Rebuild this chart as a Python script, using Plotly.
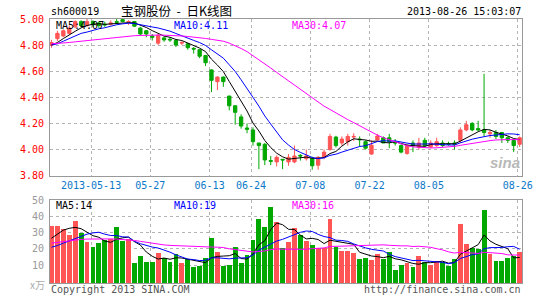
import math
import plotly.graph_objects as go

# ---------------- data ----------------
DATES = (
    ["2013-05-%02d" % d for d in [2, 3, 6, 7, 8, 9, 10, 13, 14, 15, 16, 17, 20, 21, 22, 23, 24, 27, 28, 29, 30, 31]]
    + ["2013-06-%02d" % d for d in [3, 4, 5, 6, 7, 13, 14, 17, 18, 19, 20, 21, 24, 25, 26, 27, 28]]
    + ["2013-07-%02d" % d for d in [1, 2, 3, 4, 5, 8, 9, 10, 11, 12, 15, 16, 17, 18, 19, 22, 23, 24, 25, 26, 29, 30, 31]]
    + ["2013-08-%02d" % d for d in [1, 2, 5, 6, 7, 8, 9, 12, 13, 14, 15, 16, 19, 20, 21, 22, 23, 26]]
)

OPEN = [4.80, 4.85, 4.87, 4.89, 4.94, 4.98, 4.95, 4.98, 4.97, 4.96,
        4.96, 4.98, 4.995, 4.975, 4.98, 4.93, 4.91, 4.87, 4.815, 4.855,
        4.845, 4.835, 4.815, 4.81, 4.775, 4.765, 4.72, 4.61, 4.52, 4.555,
        4.41, 4.335, 4.25, 4.165, 4.15, 4.05, 4.04, 3.915, 3.905, 3.925,
        3.905, 3.905, 3.955, 3.93, 3.93, 3.88, 3.94, 4.00, 4.095, 4.05,
        4.06, 4.095, 4.08, 4.06, 3.965, 4.073, 4.09, 4.09, 4.055, 4.03,
        3.97, 4.05, 4.015, 4.07, 4.02, 4.03, 4.05, 4.045, 4.05, 4.07,
        4.15, 4.20, 4.16, 4.15, 4.12, 4.13, 4.13, 4.09, 4.07, 4.04]
HIGH = [4.84, 4.91, 4.92, 4.95, 4.99, 4.99, 5.00, 4.99, 4.98, 4.98,
        4.99, 5.00, 5.00, 4.99, 4.985, 4.94, 4.915, 4.885, 4.885, 4.865,
        4.86, 4.845, 4.83, 4.815, 4.785, 4.77, 4.725, 4.615, 4.56, 4.56,
        4.41, 4.34, 4.27, 4.20, 4.17, 4.05, 4.05, 3.95, 3.955, 3.925,
        3.965, 4.03, 3.965, 4.00, 3.945, 3.95, 4.00, 4.12, 4.105, 4.10,
        4.12, 4.125, 4.10, 4.07, 4.07, 4.12, 4.10, 4.12, 4.08, 4.04,
        4.04, 4.07, 4.09, 4.09, 4.07, 4.09, 4.07, 4.06, 4.07, 4.17,
        4.22, 4.21, 4.22, 4.58, 4.15, 4.15, 4.13, 4.10, 4.08, 4.10]
LOW = [4.78, 4.83, 4.86, 4.88, 4.93, 4.94, 4.94, 4.94, 4.93, 4.94,
       4.95, 4.96, 4.975, 4.955, 4.94, 4.875, 4.86, 4.835, 4.80, 4.825,
       4.825, 4.785, 4.80, 4.765, 4.735, 4.70, 4.64, 4.44, 4.455, 4.48,
       4.30, 4.19, 4.16, 4.125, 4.03, 3.85, 3.88, 3.88, 3.87, 3.85,
       3.875, 3.895, 3.915, 3.915, 3.845, 3.845, 3.925, 3.99, 4.015, 4.03,
       4.03, 4.065, 4.02, 4.00, 3.96, 4.07, 4.05, 4.01, 4.03, 3.97,
       3.96, 3.98, 4.00, 4.02, 4.01, 4.02, 4.02, 4.03, 4.00, 4.05,
       4.14, 4.14, 4.14, 4.10, 4.09, 4.08, 4.05, 4.05, 3.98, 4.02]
CLOSE = [4.82, 4.89, 4.91, 4.93, 4.98, 4.95, 4.98, 4.96, 4.95, 4.955,
         4.97, 4.975, 4.98, 4.98, 4.945, 4.885, 4.885, 4.86, 4.875, 4.84,
         4.84, 4.80, 4.82, 4.78, 4.77, 4.715, 4.665, 4.53, 4.555, 4.52,
         4.335, 4.285, 4.18, 4.155, 4.06, 4.03, 3.92, 3.91, 3.94, 3.92,
         3.94, 3.95, 3.95, 3.95, 3.875, 3.94, 3.98, 4.10, 4.03, 4.08,
         4.10, 4.10, 4.075, 4.01, 4.033, 4.103, 4.05, 4.06, 4.05, 3.98,
         4.03, 4.03, 4.05, 4.03, 4.05, 4.06, 4.03, 4.04, 4.04, 4.15,
         4.19, 4.15, 4.15, 4.13, 4.13, 4.10, 4.09, 4.07, 4.03, 4.09]

PRICE_MA5 = [4.80, 4.82, 4.85, 4.88, 4.906, 4.932, 4.95, 4.96, 4.964, 4.959,
             4.963, 4.962, 4.966, 4.972, 4.97, 4.953, 4.935, 4.911, 4.89, 4.869,
             4.86, 4.843, 4.835, 4.816, 4.802, 4.777, 4.75, 4.692, 4.647, 4.597,
             4.521, 4.445, 4.375, 4.295, 4.203, 4.142, 4.069, 4.015, 3.972, 3.944,
             3.926, 3.932, 3.94, 3.942, 3.933, 3.933, 3.939, 3.969, 3.985, 4.026,
             4.058, 4.082, 4.077, 4.073, 4.063, 4.064, 4.054, 4.051, 4.059, 4.049,
             4.034, 4.03, 4.028, 4.024, 4.038, 4.044, 4.044, 4.042, 4.044, 4.064,
             4.09, 4.114, 4.136, 4.154, 4.15, 4.132, 4.12, 4.104, 4.084, 4.076]
PRICE_MA10 = [4.80, 4.81, 4.83, 4.85, 4.87, 4.89, 4.90, 4.915, 4.925, 4.933,
              4.947, 4.956, 4.963, 4.968, 4.965, 4.958, 4.949, 4.939, 4.931, 4.92,
              4.907, 4.889, 4.873, 4.853, 4.836, 4.819, 4.797, 4.764, 4.732, 4.70,
              4.649, 4.598, 4.534, 4.471, 4.40, 4.332, 4.257, 4.195, 4.134, 4.074,
              4.034, 4.00, 3.978, 3.957, 3.939, 3.93, 3.936, 3.955, 3.964, 3.98,
              3.996, 4.011, 4.023, 4.029, 4.045, 4.061, 4.068, 4.064, 4.066, 4.056,
              4.049, 4.042, 4.04, 4.042, 4.044, 4.039, 4.037, 4.035, 4.034, 4.051,
              4.067, 4.079, 4.089, 4.099, 4.107, 4.111, 4.117, 4.12, 4.119, 4.113]
PRICE_MA30 = [4.81, 4.812, 4.815, 4.82, 4.825, 4.83, 4.835, 4.84, 4.845, 4.85,
              4.855, 4.86, 4.865, 4.868, 4.872, 4.874, 4.876, 4.877, 4.877, 4.876,
              4.875, 4.873, 4.87, 4.866, 4.862, 4.857, 4.851, 4.844, 4.837, 4.83,
              4.815, 4.797, 4.774, 4.75, 4.72, 4.69, 4.657, 4.624, 4.591, 4.558,
              4.526, 4.493, 4.46, 4.428, 4.394, 4.362, 4.332, 4.307, 4.279, 4.254,
              4.229, 4.206, 4.181, 4.155, 4.13, 4.11, 4.09, 4.074, 4.057, 4.039,
              4.029, 4.02, 4.016, 4.012, 4.012, 4.013, 4.016, 4.021, 4.024, 4.032,
              4.04, 4.047, 4.053, 4.059, 4.068, 4.073, 4.077, 4.076, 4.076, 4.076]

VOLUME = [34.2, 34.2, 32.2, 28.2, 37.2, 30.0, 24.0, 21.0, 23.4, 25.6,
          26.0, 33.6, 25.0, 26.0, 11.4, 15.6, 12.2, 12.0, 17.4, 14.4,
          12.0, 16.6, 11.4, 13.8, 8.6, 9.2, 14.4, 26.6, 18.0, 9.6,
          10.2, 21.0, 11.4, 16.2, 25.4, 38.4, 33.6, 45.6, 36.2, 20.4,
          24.2, 33.0, 28.2, 24.6, 22.2, 20.6, 20.6, 38.4, 21.0, 18.4,
          18.8, 17.2, 14.0, 14.6, 13.4, 16.8, 14.0, 18.0, 7.2, 10.2,
          11.0, 8.6, 15.6, 12.0, 10.2, 12.6, 11.6, 9.6, 14.0, 35.4,
          22.8, 20.6, 20.0, 43.8, 17.0, 12.6, 12.6, 14.4, 15.6, 18.2]
VOL_MA5 = [26.5, 29.0, 31.5, 32.6, 33.2, 32.36, 30.32, 28.08, 27.12, 24.8,
           24.0, 25.92, 26.72, 27.24, 24.4, 22.32, 18.04, 15.44, 13.72, 14.32,
           13.6, 14.48, 14.36, 13.64, 12.48, 11.92, 11.48, 14.52, 15.36, 15.56,
           15.76, 17.08, 14.04, 13.68, 16.84, 22.48, 25.0, 31.84, 35.84, 34.84,
           32.0, 31.88, 28.4, 26.08, 26.44, 25.72, 23.24, 25.28, 24.56, 23.8,
           23.44, 22.76, 17.88, 16.6, 15.6, 15.2, 14.56, 15.36, 13.88, 13.24,
           12.08, 11.0, 10.52, 11.48, 11.48, 11.8, 12.4, 11.2, 11.6, 16.64,
           18.68, 20.48, 22.56, 28.52, 24.84, 22.8, 21.2, 20.08, 14.44, 14.68]
VOL_MA10 = [21.0, 22.0, 23.5, 25.0, 26.5, 28.0, 29.0, 29.8, 30.2, 29.0,
            28.18, 28.12, 27.4, 27.18, 24.6, 23.16, 21.98, 21.08, 20.48, 19.36,
            17.96, 16.26, 14.9, 13.68, 13.4, 12.76, 12.98, 14.44, 14.5, 14.02,
            13.84, 14.28, 14.28, 14.52, 16.2, 19.12, 21.04, 22.94, 24.76, 25.84,
            27.24, 28.44, 30.12, 30.96, 30.64, 28.86, 27.56, 26.84, 25.32, 25.12,
            24.58, 23.0, 21.58, 20.58, 19.7, 19.32, 18.66, 16.62, 15.24, 14.42,
            13.64, 12.78, 12.94, 12.68, 12.36, 11.94, 11.7, 10.86, 11.54, 14.06,
            15.24, 16.44, 16.88, 20.06, 20.74, 20.74, 20.84, 21.32, 21.48, 19.76]
VOL_MA30 = [23.5, 24.0, 24.5, 25.0, 25.5, 25.8, 26.0, 26.1, 26.2, 26.2,
            26.1, 26.0, 25.8, 25.5, 25.1, 24.6, 24.0, 23.4, 22.8, 22.4,
            22.1, 21.9, 21.7, 21.6, 21.5, 21.4, 21.2, 21.1, 21.0, 20.8,
            20.0, 19.56, 18.87, 18.47, 18.08, 18.36, 18.68, 19.5, 19.93, 19.76,
            19.7, 19.68, 19.79, 19.74, 20.1, 20.27, 20.55, 21.43, 21.55, 21.68,
            21.91, 21.93, 22.02, 22.05, 22.21, 22.46, 22.45, 22.16, 21.8, 21.82,
            21.85, 21.44, 21.58, 21.44, 20.93, 20.07, 19.34, 18.14, 17.4, 17.9,
            17.85, 17.44, 17.17, 17.81, 17.64, 17.37, 17.1, 16.3, 16.12, 16.11]

TICK_DATES = ["2013-05-13", "2013-05-27", "2013-06-13", "2013-06-24",
              "2013-07-08", "2013-07-22", "2013-08-05", "2013-08-26"]
TICK_LABELS = ["2013-05-13", "05-27", "06-13", "06-24", "07-08", "07-22", "08-05", "08-26"]
PRICE_TICKS = [3.80, 4.00, 4.20, 4.40, 4.60, 4.80, 5.00]
VOL_TICKS = [10, 20, 30, 40, 50]

SYMBOL = "sh600019"
TITLE = "宝钢股份&nbsp;&nbsp;-&nbsp;&nbsp;日K线图"
STAMP = "2013-08-26 15:03:07"

# ---------------- layout helpers ----------------
W, H = 545, 300
L, R, T, B = 50, 529, 18.5, 285.7
PRICE_BOTTOM = 177.0
VOL_TOP = 201.7
VOL_FLOOR = -1.0
X_RANGE = [-0.25, 79.4]
GRID_SHIFT = -0.32

RED = "#ff5555"
GREEN = "#00a800"
MONO = "DejaVu Sans Mono"


def px(x):
    return (x - L) / (R - L)


def py(y):
    return (B - y) / (B - T)


def trunc(v, nd):
    f = 10 ** nd
    return math.floor(v * f + 1e-9) / f


idx = list(range(len(DATES)))
tickvals = [DATES.index(d) + GRID_SHIFT for d in TICK_DATES]

fig = go.Figure()

fig.add_trace(go.Candlestick(
    x=idx, open=OPEN, high=HIGH, low=LOW, close=CLOSE,
    increasing=dict(line=dict(color=RED, width=1), fillcolor=RED),
    decreasing=dict(line=dict(color=GREEN, width=1), fillcolor=GREEN),
    whiskerwidth=0, xaxis="x", yaxis="y", hoverinfo="skip",
))
for arr, col in [(PRICE_MA5, "#000000"), (PRICE_MA10, "#0000ff"), (PRICE_MA30, "#ff00ff")]:
    fig.add_trace(go.Scatter(x=idx, y=arr, mode="lines", line=dict(color=col, width=1),
                             xaxis="x", yaxis="y", hoverinfo="skip"))

bar_colors = [RED if c >= o else GREEN for o, c in zip(OPEN, CLOSE)]
fig.add_trace(go.Bar(
    x=idx, y=[v - VOL_FLOOR for v in VOLUME], base=VOL_FLOOR,
    marker=dict(color=bar_colors, line=dict(width=0)), width=0.82,
    xaxis="x2", yaxis="y2", hoverinfo="skip",
))
for arr, col in [(VOL_MA5, "#000000"), (VOL_MA10, "#0000ff"), (VOL_MA30, "#ff00ff")]:
    fig.add_trace(go.Scatter(x=idx, y=arr, mode="lines", line=dict(color=col, width=1),
                             xaxis="x2", yaxis="y2", hoverinfo="skip"))

grid = dict(showgrid=True, gridcolor="#b4b4b4", griddash="dot", gridwidth=1,
            showline=True, linecolor="#999999", linewidth=1, mirror=True,
            zeroline=False, ticks="", fixedrange=True)

price_dom = [py(PRICE_BOTTOM), 1.0]
vol_dom = [0.0, py(VOL_TOP)]

fig.update_layout(
    width=W, height=H,
    margin=dict(l=L, r=W - R, t=T, b=H - B, pad=0),
    paper_bgcolor="white", plot_bgcolor="white",
    showlegend=False,
    font=dict(family=MONO, size=10, color="#000000"),
    xaxis=dict(domain=[0, 1], range=X_RANGE, anchor="y", tickmode="array",
               tickvals=tickvals, ticktext=TICK_LABELS,
               tickfont=dict(family=MONO, size=10, color="#0a78c8"),
               rangeslider=dict(visible=False), **grid),
    yaxis=dict(domain=price_dom, range=[3.80, 5.00], anchor="x", tickmode="array",
               tickvals=PRICE_TICKS, ticktext=["%.2f" % v for v in PRICE_TICKS],
               tickfont=dict(family=MONO, size=10, color="#ff0000"),
               ticklabelstandoff=3, **grid),
    xaxis2=dict(domain=[0, 1], range=X_RANGE, anchor="y2", tickmode="array",
                tickvals=tickvals, showticklabels=False, **grid),
    yaxis2=dict(domain=vol_dom, range=[VOL_FLOOR, 50], anchor="x2", tickmode="array",
                tickvals=VOL_TICKS, ticktext=[str(v) for v in VOL_TICKS],
                tickfont=dict(family=MONO, size=10, color="#999999"),
                ticklabelstandoff=3, **grid),
    bargap=0,
    boxgap=0.2,
)

ann = []


def text(x, y, s, color="#000000", anchor="left", size=10, family=MONO, **kw):
    ann.append(dict(x=px(x), y=py(y), xref="paper", yref="paper", text=s, showarrow=False,
                    xanchor=anchor, yanchor="middle", font=dict(family=family, size=size, color=color),
                    borderpad=0, **kw))


text(50, 10.5, SYMBOL)
text(121, 10, TITLE, family="Noto Sans CJK SC", size=12.5)
text(529.5, 11, STAMP, anchor="right")

text(55, 25, "MA5:%.2f" % trunc(PRICE_MA5[-1], 2))
text(175, 25, "MA10:%.2f" % trunc(PRICE_MA10[-1], 2), color="#0000ff")
text(295, 25, "MA30:%.2f" % trunc(PRICE_MA30[-1], 2), color="#ff00ff")

text(55, 207, "MA5:%d" % trunc(VOL_MA5[-1], 0))
text(175, 207, "MA10:%d" % trunc(VOL_MA10[-1], 0), color="#0000ff")
text(295, 207, "MA30:%d" % trunc(VOL_MA30[-1], 0), color="#ff00ff")

text(46, 287, "x万", color="#aaaaaa", anchor="right", family="Noto Sans CJK SC", size=10)
text(50, 292.5, "Copyright 2013 SINA.COM", color="#555555")
text(529.5, 292.5, "http://finance.sina.com.cn", color="#555555", anchor="right")
text(512, 164, "<b><i>sina</i></b>", color="#b8b8b8", anchor="center", family="Liberation Sans", size=15)

fig.update_layout(annotations=ann)

fig.write_html("out.html")
